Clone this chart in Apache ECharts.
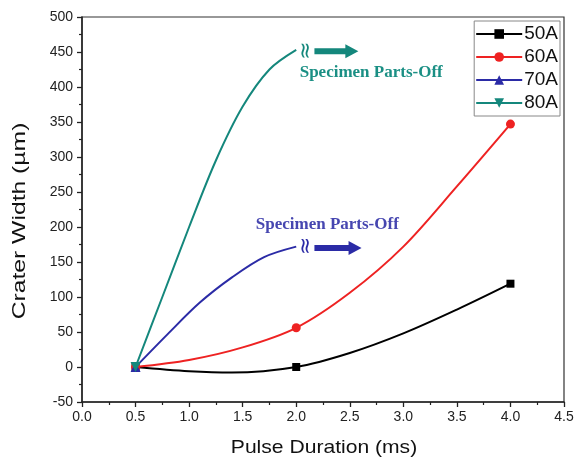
<!DOCTYPE html>
<html>
<head>
<meta charset="utf-8">
<script src="https://cdn.jsdelivr.net/npm/echarts@6/dist/echarts.min.js"></script>
<style>
  html, body { margin: 0; padding: 0; background: #fff; }
  #main { width: 581px; height: 461px; }
</style>
</head>
<body>
<div id="main"></div>
<script>
// curves; markers only where the original has them
const marked = [0.5, 2.0, 4.0];
const x50 = [0.5, 1.0, 1.4, 2.0, 2.5, 3.0, 3.5, 4.0];
const y50 = [0, -6, -8, 0, 20, 48, 82, 119];
const x60 = [0.5, 1.0, 1.5, 2.0, 2.5, 3.0, 3.5, 4.0];
const y60 = [0, 10, 28, 56, 106, 172, 258, 347];
// 70A and 80A stop at 2.0 (specimen parts off), marker only at 0.5
const x70 = [0.5, 0.8, 1.1, 1.4, 1.7, 2.0];
const y70 = [0, 47, 92, 128, 157, 172];
const x80 = [0.5, 0.75, 1.0, 1.25, 1.5, 1.75, 2.0];
const y80 = [0, 100, 200, 295, 372, 425, 453];

const xTicks = ['0.0', '0.5', '1.0', '1.5', '2.0', '2.5', '3.0', '3.5', '4.0', '4.5'];

const C50 = '#000000', C60 = '#ee2222', C70 = '#2b2ba6', C80 = '#14877c';

const zip = (a, b) => a.map((v, i) => [v, b[i]]);
const markAt = (xs, size) => (val) => (xs.indexOf(val[0]) >= 0 ? size : 0);

const chartDom = document.getElementById('main');
const myChart = echarts.init(chartDom);
let option;

option = {
  animation: false,
  grid: {
    left: 82, right: 17, top: 17, bottom: 59,
    show: true, borderColor: '#333', borderWidth: 1.2, backgroundColor: '#fff'
  },
  legend: {
    right: 21, top: 21,
    orient: 'vertical',
    itemWidth: 46, itemHeight: 12, itemGap: 3,
    padding: [3, 2, 3, 1],
    borderColor: '#888', borderWidth: 1, backgroundColor: '#fff',
    textStyle: { fontFamily: 'Liberation Sans, Arial', fontSize: 19, lineHeight: 20, color: '#111', padding: [0, 0, 0, -3] },
    data: ['50A', '60A', '70A', '80A']
  },
  xAxis: {
    type: 'value', min: 0, max: 4.5, interval: 0.5,
    axisLine: { onZero: false, lineStyle: { color: '#222', width: 1.5 } },
    axisTick: { show: true, inside: false, length: 5, lineStyle: { color: '#222', width: 1.3 } },
    minorTick: { show: true, splitNumber: 2, length: 3, lineStyle: { color: '#222', width: 1.2 } },
    axisLabel: {
      fontFamily: 'Liberation Sans, Arial', fontSize: 14, color: '#222', margin: 8,
      formatter: (v) => xTicks[Math.round(v / 0.5)]
    },
    splitLine: { show: false }
  },
  yAxis: {
    type: 'value', min: -50, max: 500, interval: 50,
    axisLine: { show: true, onZero: false, lineStyle: { color: '#222', width: 1.5 } },
    axisTick: { show: true, inside: false, length: 5, lineStyle: { color: '#222', width: 1.3 } },
    minorTick: { show: true, splitNumber: 2, length: 3, lineStyle: { color: '#222', width: 1.2 } },
    axisLabel: { fontFamily: 'Liberation Sans, Arial', fontSize: 14, color: '#222', margin: 9 },
    splitLine: { show: false }
  },
  series: [
    {
      name: '50A', type: 'line', data: zip(x50, y50), smooth: 0.33,
      symbol: 'rect', symbolSize: markAt(marked, 8), showAllSymbol: true,
      color: C50, lineStyle: { width: 2 }, z: 2
    },
    {
      name: '60A', type: 'line', data: zip(x60, y60), smooth: 0.33,
      symbol: 'circle', symbolSize: markAt(marked, 9), showAllSymbol: true,
      color: C60, lineStyle: { width: 2 }, z: 3
    },
    {
      name: '70A', type: 'line', data: zip(x70, y70), smooth: 0.33,
      symbol: 'triangle', symbolSize: markAt([0.5], 10), showAllSymbol: true,
      color: C70, lineStyle: { width: 2 }, z: 4
    },
    {
      name: '80A', type: 'line', data: zip(x80, y80), smooth: 0.33,
      symbol: 'triangle', symbolRotate: 180, symbolSize: markAt([0.5], 10), showAllSymbol: true,
      color: C80, lineStyle: { width: 2 }, z: 5
    }
  ]
};

option && myChart.setOption(option);

// "parts-off" annotations: squiggle, arrow and label, placed in data coordinates
const notes = [
  { color: C80, text: '#1a8f84', sq: [2.09, 452], a0: [2.17, 451], a1: [2.58, 451], label: [2.7, 420] },
  { color: C70, text: '#4646b0', sq: [2.09, 173], a0: [2.17, 170], a1: [2.61, 170], label: [2.29, 203] }
];
const graphics = [];
notes.forEach((n) => {
  const sq = myChart.convertToPixel({ gridIndex: 0 }, n.sq);
  const p0 = myChart.convertToPixel({ gridIndex: 0 }, n.a0);
  const p1 = myChart.convertToPixel({ gridIndex: 0 }, n.a1);
  const lb = myChart.convertToPixel({ gridIndex: 0 }, n.label);
  graphics.push({
    type: 'text', x: sq[0], y: sq[1], rotation: Math.PI / 2,
    style: { text: '≈', fill: n.color, font: '22px DejaVu Sans', align: 'center', verticalAlign: 'middle' }
  });
  const head = 13, hw = 7, sw = 3;
  graphics.push({
    type: 'polygon',
    shape: { points: [
      [p0[0], p0[1] - sw], [p1[0] - head, p1[1] - sw], [p1[0] - head, p1[1] - hw],
      [p1[0], p1[1]], [p1[0] - head, p1[1] + hw], [p1[0] - head, p1[1] + sw], [p0[0], p0[1] + sw]
    ] },
    style: { fill: n.color }
  });
  graphics.push({
    type: 'text', x: lb[0], y: lb[1],
    style: {
      text: 'Specimen Parts-Off', fill: n.text,
      font: 'bold 17px Liberation Serif', align: 'center', verticalAlign: 'middle'
    }
  });
});
// axis titles (the original is stretched a bit along the text)
graphics.push({
  type: 'text', x: 324, y: 448, scaleX: 1.11,
  style: { text: 'Pulse Duration (ms)', fill: '#111', font: '19px Liberation Sans', align: 'center', verticalAlign: 'middle' }
});
graphics.push({
  type: 'text', x: 20, y: 221, rotation: Math.PI / 2, scaleX: 1.3,
  style: { text: 'Crater Width (µm)', fill: '#111', font: '19px Liberation Sans', align: 'center', verticalAlign: 'middle' }
});
myChart.setOption({ graphic: graphics });
</script>
</body>
</html>
